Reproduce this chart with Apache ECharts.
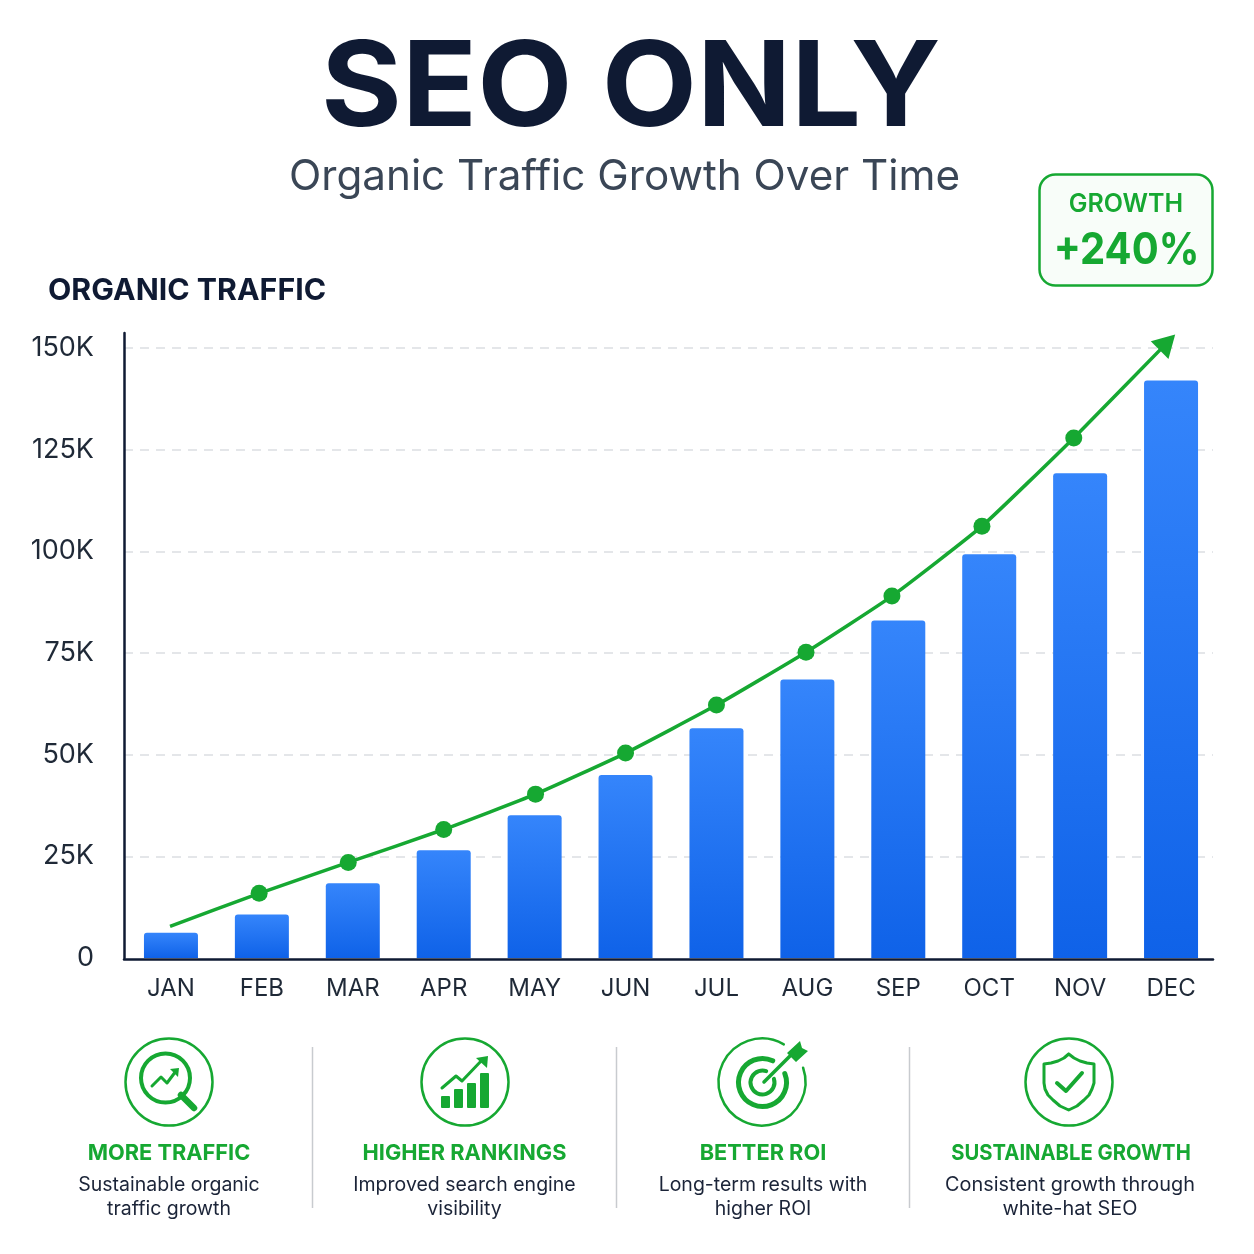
<!DOCTYPE html>
<html>
<head>
<meta charset="utf-8">
<style>html,body{margin:0;padding:0;background:#fff}#chart{width:1254px;height:1254px}</style>
<script src="https://cdn.jsdelivr.net/npm/echarts@6/dist/echarts.min.js"></script>
</head>
<body>
<div id="chart"></div>
<script>
// Monthly organic traffic, in thousands of visits
const months = ['JAN','FEB','MAR','APR','MAY','JUN','JUL','AUG','SEP','OCT','NOV','DEC'];
const trafficK = [6.2, 10.7, 18.4, 26.5, 35.1, 45, 56.5, 68.5, 83, 99.3, 119.2, 142];

// Trend line above the bars: month position and value, last point carries the arrowhead
const trendMonth = [-0.01, 0.97, 1.95, 3, 4.01, 5, 6, 6.985, 7.93, 8.92, 9.93, 10.96];
const trendK = [7.8, 15.9, 23.5, 31.6, 40.3, 50.4, 62.2, 75.2, 89, 106.2, 127.9, 151.4];

const yTicksK = [0, 25, 50, 75, 100, 125, 150];

// Feature columns beneath the chart
const featureTitles = ['MORE TRAFFIC', 'HIGHER RANKINGS', 'BETTER ROI', 'SUSTAINABLE GROWTH'];
const featureLines = [
  ['Sustainable organic', 'traffic growth'],
  ['Improved search engine', 'visibility'],
  ['Long-term results with', 'higher ROI'],
  ['Consistent growth through', 'white-hat SEO']
];
const featureCenters = [169, 464.5, 763, 1071];
const titleStretch = [0.99, 0.99, 0.99, 0.92];
const captionStretch = [1, 1, 1, 1.02];
const dividerXs = [312.5, 616.5, 909.5];

const GREEN = '#16a832';
const NAVY = '#0f1a33';
const FONT = 'Inter, "Noto Sans", sans-serif';

const TOP = 333, ZERO = 958, YMAX = 153.7;

function text(str, x, y, size, weight, fill, align, sx) {
  return { type: 'text', x, y, scaleX: sx || 1, silent: true, style: {
    text: str, fontFamily: FONT, fontSize: size, fontWeight: weight, fill,
    align: align || 'center', verticalAlign: 'middle' } };
}
function ring(cx, cy, r, w) {
  return { type: 'circle', shape: { cx, cy, r }, silent: true, style: { fill: 'none', stroke: GREEN, lineWidth: w } };
}
function stroke(points, w) {
  return { type: 'polyline', silent: true, shape: { points }, style: { fill: 'none', stroke: GREEN, lineWidth: w, lineCap: 'round', lineJoin: 'round' } };
}
function solid(points) {
  return { type: 'polygon', silent: true, shape: { points }, style: { fill: GREEN } };
}
function rect(x, y, w, h) {
  return { type: 'rect', silent: true, shape: { x, y, width: w, height: h, r: 1 }, style: { fill: GREEN } };
}
function arc(cx, cy, r, a0, a1, w) {
  return { type: 'arc', silent: true, shape: { cx, cy, r, startAngle: a0, endAngle: a1, clockwise: true }, style: { fill: 'none', stroke: GREEN, lineWidth: w, lineCap: 'round' } };
}

const shieldOutline = [[1068.7,1054],[1064,1058],[1058,1061],[1051,1063],[1044,1064],[1044,1083],[1045,1089],[1048,1095],[1053,1100],[1060,1106],[1068.7,1110],
  [1077,1106],[1084,1100],[1089,1095],[1092,1089],[1094,1083],[1094,1064],[1087,1063],[1080,1061],[1074,1058],[1068.7,1054]];

const icons = [
  // magnifier over a rising line
  ring(169, 1082, 43.5, 2.5),
  ring(165.5, 1078, 24.5, 4),
  stroke([[181,1095],[194,1108]], 6.5),
  stroke([[152,1086],[161,1077],[167,1083],[176,1071]], 3),
  solid([[170,1069],[179,1068],[178,1077]]),
  // rising bars with arrow
  ring(465, 1082, 43.5, 2.5),
  rect(441, 1096, 9, 12), rect(454, 1089, 9, 19), rect(467, 1083, 9, 25), rect(480, 1073, 9, 35),
  stroke([[442,1088],[456,1076],[462,1081],[483,1059]], 3),
  solid([[476,1058],[488,1056],[487,1068]]),
  // target with arrow
  arc(762, 1082, 43.5, -Math.PI * 0.106, -Math.PI * 0.333, 2.5),
  arc(762.5, 1082.5, 24, -Math.PI * 0.12, -Math.PI * 0.36, 5),
  arc(762.5, 1082.5, 12, -Math.PI * 0.1, -Math.PI * 0.4, 4),
  stroke([[764,1082],[792,1054]], 3.5),
  solid([[787,1053],[800,1041],[802,1048],[808,1051],[796,1062]]),
  // shield with check mark
  ring(1069, 1082, 43.5, 2.5),
  stroke(shieldOutline, 3),
  stroke([[1057,1083],[1066,1091],[1082,1073]], 4)
];

const graphicEls = [
  text('SEO ONLY', 631, 91, 118, 700, NAVY, 'center', 1.048),
  text('Organic Traffic Growth Over Time', 624.5, 177, 42.2, 400, '#3a4656'),
  text('ORGANIC TRAFFIC', 48, 291, 30, 700, NAVY, 'left', 1.01),
  { type: 'rect', silent: true, shape: { x: 1039.5, y: 174.5, width: 173, height: 111, r: 16 },
    style: { fill: '#f8fdf9', stroke: GREEN, lineWidth: 2.5 } },
  text('GROWTH', 1126, 204, 25, 600, GREEN),
  text('+240%', 1126.5, 251, 44, 700, GREEN, 'center', 0.91),
  ...icons
];
dividerXs.forEach(x => graphicEls.push({ type: 'line', silent: true,
  shape: { x1: x, y1: 1047, x2: x, y2: 1208 }, style: { stroke: '#c8cbcf', lineWidth: 1.5 } }));
featureTitles.forEach((t, i) => {
  graphicEls.push(text(t, featureCenters[i], 1153, 22, 700, GREEN, 'center', titleStretch[i]));
  graphicEls.push(text(featureLines[i][0], featureCenters[i] - (i === 3 ? 1 : 0), 1185, 19.5, 400, '#1b2438', 'center', captionStretch[i]));
  graphicEls.push(text(featureLines[i][1], featureCenters[i] - (i === 3 ? 1 : 0), 1209, 19.5, 400, '#1b2438', 'center', captionStretch[i]));
});

const chart = echarts.init(document.getElementById('chart'));
const lastPoint = trendMonth.length - 1;

chart.setOption({
  animation: false,
  backgroundColor: '#ffffff',
  grid: [
    // frame: axis lines, ticks and dashed guides
    { left: 124, top: TOP, width: 1089, height: ZERO - TOP },
    // plot: month bands that carry the bars and the trend
    { left: 125.5, top: TOP, width: 1091, height: ZERO - TOP }
  ],
  xAxis: [
    { gridIndex: 0, type: 'value', min: 0, max: 1, offset: 1,
      axisLine: { show: true, onZero: false, lineStyle: { color: NAVY, width: 2.5 } },
      axisTick: { show: false }, axisLabel: { show: false }, splitLine: { show: false } },
    { gridIndex: 1, type: 'category', data: months,
      axisLine: { show: false }, axisTick: { show: false },
      axisLabel: { margin: 19, color: '#1f2937', fontFamily: FONT, fontSize: 24 }, splitLine: { show: false } },
    { gridIndex: 1, type: 'value', min: -0.5, max: 11.5, show: false }
  ],
  yAxis: [
    { gridIndex: 0, type: 'value', min: 0, max: YMAX, interval: 25,
      axisLine: { show: true, lineStyle: { color: NAVY, width: 2.5 } },
      axisTick: { show: false },
      axisLabel: { margin: 30, color: '#1f2937', fontFamily: FONT, fontSize: 27, showMaxLabel: false,
        formatter: v => yTicksK.includes(v) ? (v === 0 ? '0' : v + 'K') : '' },
      splitLine: { show: true, showMinLine: false, showMaxLine: false,
        lineStyle: { color: '#dcdee2', width: 1.5, type: [9, 7] } } },
    { gridIndex: 1, type: 'value', min: 0, max: YMAX, show: false }
  ],
  series: [
    { name: 'Organic traffic', type: 'bar', xAxisIndex: 1, yAxisIndex: 1, barWidth: 54,
      data: trafficK,
      itemStyle: { borderRadius: [3, 3, 0, 0], color: new echarts.graphic.LinearGradient(0, 0, 0, 1, [
        { offset: 0, color: '#3585fb' }, { offset: 1, color: '#0f62e8' }]) } },
    { name: 'Trend', type: 'line', xAxisIndex: 2, yAxisIndex: 1, smooth: 0.15, clip: false, z: 5,
      showAllSymbol: true,
      lineStyle: { color: GREEN, width: 3.5 },
      itemStyle: { color: GREEN },
      data: trendMonth.map((m, i) => {
        if (i === 0) return { value: [m, trendK[i]], symbol: 'none' };
        if (i === lastPoint) return { value: [m, trendK[i]], symbol: 'triangle', symbolSize: [25, 22], symbolRotate: -45 };
        return { value: [m, trendK[i]], symbol: 'circle', symbolSize: 17 };
      }) }
  ],
  graphic: { elements: graphicEls }
});
</script>
</body>
</html>
